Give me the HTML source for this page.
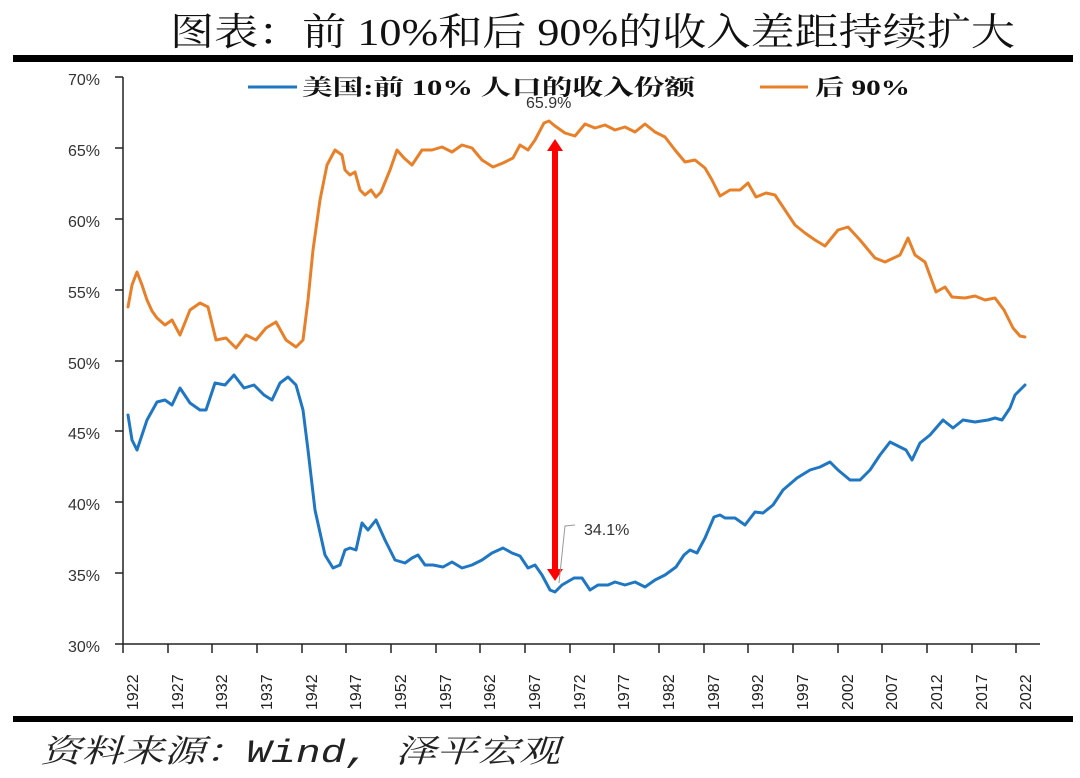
<!DOCTYPE html>
<html><head><meta charset="utf-8"><style>
html,body{margin:0;padding:0;background:#fff;}
svg{display:block;}
</style></head><body>
<svg width="1080" height="778" viewBox="0 0 1080 778" xmlns="http://www.w3.org/2000/svg">
<text x="170" y="45" font-family="'Liberation Serif','Noto Serif CJK SC',serif" font-size="38" fill="#111" textLength="845" lengthAdjust="spacingAndGlyphs">图表：前 10%和后 90%的收入差距持续扩大</text>
<rect x="13" y="55" width="1060" height="7" fill="#000"/>
<!-- legend -->
<line x1="248" y1="87" x2="297" y2="87" stroke="#1f77c4" stroke-width="3"/>
<text x="302" y="95" font-family="'Liberation Serif','Noto Serif CJK SC',serif" font-weight="bold" font-size="22" fill="#111" textLength="393" lengthAdjust="spacingAndGlyphs">美国:前 10% 人口的收入份额</text>
<line x1="760" y1="87" x2="808" y2="87" stroke="#e8802a" stroke-width="3"/>
<text x="815" y="95" font-family="'Liberation Serif','Noto Serif CJK SC',serif" font-weight="bold" font-size="22" fill="#111" textLength="95" lengthAdjust="spacingAndGlyphs">后 90%</text>
<!-- axes -->
<g stroke="#222" stroke-width="1.5" fill="none">
<line x1="123" y1="77" x2="123" y2="644"/>
<line x1="123" y1="644" x2="1040" y2="644"/>
<line x1="115" y1="77" x2="123" y2="77"/><line x1="115" y1="148" x2="123" y2="148"/><line x1="115" y1="219" x2="123" y2="219"/><line x1="115" y1="290" x2="123" y2="290"/><line x1="115" y1="361" x2="123" y2="361"/><line x1="115" y1="431" x2="123" y2="431"/><line x1="115" y1="502" x2="123" y2="502"/><line x1="115" y1="573" x2="123" y2="573"/><line x1="115" y1="644" x2="123" y2="644"/>
<line x1="123" y1="644" x2="123" y2="653"/><line x1="168" y1="644" x2="168" y2="653"/><line x1="212" y1="644" x2="212" y2="653"/><line x1="257" y1="644" x2="257" y2="653"/><line x1="302" y1="644" x2="302" y2="653"/><line x1="346" y1="644" x2="346" y2="653"/><line x1="391" y1="644" x2="391" y2="653"/><line x1="436" y1="644" x2="436" y2="653"/><line x1="480" y1="644" x2="480" y2="653"/><line x1="525" y1="644" x2="525" y2="653"/><line x1="570" y1="644" x2="570" y2="653"/><line x1="614" y1="644" x2="614" y2="653"/><line x1="659" y1="644" x2="659" y2="653"/><line x1="704" y1="644" x2="704" y2="653"/><line x1="748" y1="644" x2="748" y2="653"/><line x1="793" y1="644" x2="793" y2="653"/><line x1="838" y1="644" x2="838" y2="653"/><line x1="882" y1="644" x2="882" y2="653"/><line x1="927" y1="644" x2="927" y2="653"/><line x1="972" y1="644" x2="972" y2="653"/><line x1="1016" y1="644" x2="1016" y2="653"/>
</g>
<g font-family="'Liberation Sans',sans-serif" font-size="16" fill="#333" text-anchor="end">
<text x="100" y="85">70%</text><text x="100" y="156">65%</text><text x="100" y="227">60%</text><text x="100" y="298">55%</text><text x="100" y="369">50%</text><text x="100" y="439">45%</text><text x="100" y="510">40%</text><text x="100" y="581">35%</text><text x="100" y="652">30%</text>
</g>
<g font-family="'Liberation Sans',sans-serif" font-size="16" fill="#222" text-anchor="start">
<text transform="translate(138,710) rotate(-90)">1922</text>
<text transform="translate(183,710) rotate(-90)">1927</text>
<text transform="translate(227,710) rotate(-90)">1932</text>
<text transform="translate(272,710) rotate(-90)">1937</text>
<text transform="translate(317,710) rotate(-90)">1942</text>
<text transform="translate(361,710) rotate(-90)">1947</text>
<text transform="translate(406,710) rotate(-90)">1952</text>
<text transform="translate(451,710) rotate(-90)">1957</text>
<text transform="translate(495,710) rotate(-90)">1962</text>
<text transform="translate(540,710) rotate(-90)">1967</text>
<text transform="translate(585,710) rotate(-90)">1972</text>
<text transform="translate(629,710) rotate(-90)">1977</text>
<text transform="translate(674,710) rotate(-90)">1982</text>
<text transform="translate(719,710) rotate(-90)">1987</text>
<text transform="translate(763,710) rotate(-90)">1992</text>
<text transform="translate(808,710) rotate(-90)">1997</text>
<text transform="translate(853,710) rotate(-90)">2002</text>
<text transform="translate(897,710) rotate(-90)">2007</text>
<text transform="translate(942,710) rotate(-90)">2012</text>
<text transform="translate(987,710) rotate(-90)">2017</text>
<text transform="translate(1031,710) rotate(-90)">2022</text>
</g>
<!-- orange -->
<polyline fill="none" stroke="#e8802a" stroke-width="3" stroke-linejoin="round" stroke-linecap="round" points="128,307 132,285 137,272 142,285 147,300 152,311 157,318 165,325 172,320 180,335 190,310 200,303 208,307 216,340 226,338 236,348 246,335 256,340 266,328 276,322 286,340 296,347 303,340 308,300 313,250 320,200 327,165 335,150 342,155 345,170 350,175 355,172 360,190 365,195 371,190 376,197 381,192 390,170 397,150 404,158 412,165 422,150 432,150 442,147 452,152 462,145 472,148 482,160 493,167 503,163 513,158 520,145 528,150 535,140 544,123 549,121 555,126 565,133 575,136 585,124 595,128 605,125 615,130 625,127 635,132 645,124 655,132 665,137 675,150 685,162 695,160 705,168 712,180 720,196 730,190 740,190 748,183 756,197 766,193 775,195 785,210 795,225 805,233 815,240 825,246 838,230 848,227 860,240 875,258 885,262 900,255 908,238 915,255 925,262 936,292 945,287 952,297 965,298 975,296 985,300 995,298 1004,310 1013,328 1020,336 1025,337"/>
<!-- blue -->
<polyline fill="none" stroke="#1f77c4" stroke-width="3" stroke-linejoin="round" stroke-linecap="round" points="128,415 132,440 137,450 142,435 147,420 157,402 165,400 172,405 180,388 190,403 200,410 206,410 215,383 225,385 234,375 244,388 254,385 264,395 272,400 280,383 288,377 296,385 303,410 308,450 315,510 325,555 333,568 340,565 345,550 350,548 356,550 362,523 368,530 376,520 385,540 395,560 405,563 412,558 418,555 425,565 433,565 443,567 452,562 462,568 472,565 482,560 492,553 503,548 512,553 520,556 528,568 535,565 542,575 550,590 555,592 562,585 574,578 582,578 590,590 598,585 608,585 615,582 625,585 635,582 645,587 655,580 665,575 676,567 684,555 690,550 697,553 705,538 714,517 720,515 725,518 735,518 745,525 755,512 763,513 773,505 783,490 797,478 810,470 820,467 830,462 838,470 850,480 860,480 870,470 880,455 890,442 900,447 906,450 912,460 920,443 930,435 943,420 953,428 963,420 975,422 988,420 995,418 1002,420 1010,408 1015,395 1025,385"/>
<!-- red arrow -->
<rect x="552" y="148" width="6" height="424" fill="#ff0000"/>
<polygon points="555,139 547,151 563,151" fill="#ff0000"/>
<polygon points="555,581 547,569 563,569" fill="#ff0000"/>
<text x="526" y="108" font-family="'Liberation Sans',sans-serif" font-size="16" fill="#333">65.9%</text>
<polyline points="559,583 565,526 575,525" fill="none" stroke="#999" stroke-width="1"/>
<text x="584" y="535" font-family="'Liberation Sans',sans-serif" font-size="16" fill="#333">34.1%</text>
<rect x="13" y="716" width="1060" height="6" fill="#000"/>
<text x="40" y="762" font-family="'Liberation Mono','Noto Serif CJK SC',serif" font-style="italic" font-size="32" fill="#222" textLength="520" lengthAdjust="spacingAndGlyphs">资料来源：Wind, 泽平宏观</text>
</svg>
</body></html>
